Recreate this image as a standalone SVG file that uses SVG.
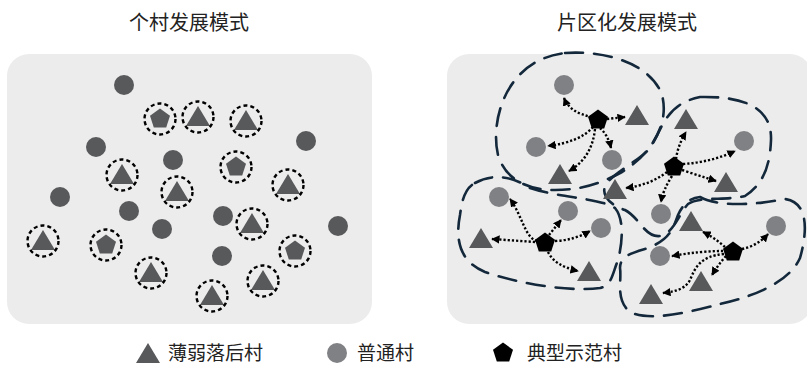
<svg xmlns="http://www.w3.org/2000/svg" xmlns:xlink="http://www.w3.org/1999/xlink" width="807" height="367" viewBox="0 0 807 367">
<style>
  .title { font-family: "Noto Sans CJK SC", sans-serif; font-size: 20px; fill: #222; text-anchor: middle; }
  .leg { font-family: "Noto Sans CJK SC", sans-serif; font-size: 19px; fill: #222; }
  .panel { fill: #ececec; }
  .dk { fill: #58595b; }
  .gr { fill: #808184; }
  .bk { fill: #000; }
  .ring { fill: none; stroke: #000; stroke-width: 2.4; stroke-dasharray: 4 3; }
  .link { fill: none; stroke: #000; stroke-width: 2.4; stroke-dasharray: 2.2 2; marker-end: url(#ah); }
  .zone { fill: none; stroke: #13283b; stroke-width: 2.6; stroke-dasharray: 18 11; stroke-linecap: round; }
</style>
<defs>
  <polygon id="tri" points="0,-11 -12,9 12,9"/>
  <polygon id="pent" points="0,-10.5 10,-3.2 6.2,8.5 -6.2,8.5 -10,-3.2"/>
  <marker id="ah" viewBox="0 0 10 10" refX="9" refY="5" markerWidth="3.5" markerHeight="3.5" orient="auto" markerUnits="strokeWidth">
    <path d="M0,0 L10,5 L0,10 z" fill="#000"/>
  </marker>
</defs>

<text class="title" x="189" y="30">个村发展模式</text>
<text class="title" x="627" y="30">片区化发展模式</text>

<rect class="panel" x="7" y="54" width="365" height="270" rx="22"/>
<rect class="panel" x="447" y="54" width="365" height="270" rx="22"/>

<!-- Left panel: individual village model -->
<g id="L1"><circle class="dk" cx="124" cy="85" r="10"/></g>
<g id="L2"><use href="#pent" x="160" y="119" class="dk"/><circle class="ring" cx="160" cy="119" r="15.5"/></g>
<g id="L3"><use href="#tri" x="198" y="117" class="dk"/><circle class="ring" cx="198" cy="117" r="15.5"/></g>
<g id="L4"><use href="#tri" x="246" y="121" class="dk"/><circle class="ring" cx="246" cy="121" r="15.5"/></g>
<g id="L5"><circle class="dk" cx="96" cy="147" r="10"/></g>
<g id="L6"><circle class="dk" cx="306" cy="141" r="10"/></g>
<g id="L7"><circle class="dk" cx="173" cy="160" r="10"/></g>
<g id="L8"><use href="#tri" x="122" y="175" class="dk"/><circle class="ring" cx="122" cy="175" r="15.5"/></g>
<g id="L9"><use href="#pent" x="236" y="167" class="dk"/><circle class="ring" cx="236" cy="167" r="15.5"/></g>
<g id="L10"><use href="#tri" x="177" y="192" class="dk"/><circle class="ring" cx="177" cy="192" r="15.5"/></g>
<g id="L11"><use href="#tri" x="288" y="185" class="dk"/><circle class="ring" cx="288" cy="185" r="15.5"/></g>
<g id="L12"><circle class="dk" cx="60" cy="197" r="10"/></g>
<g id="L13"><circle class="dk" cx="129" cy="211" r="10"/></g>
<g id="L14"><circle class="dk" cx="162" cy="229" r="10"/></g>
<g id="L15"><circle class="dk" cx="223" cy="216" r="10"/></g>
<g id="L16"><use href="#tri" x="252" y="224" class="dk"/><circle class="ring" cx="252" cy="224" r="15.5"/></g>
<g id="L17"><circle class="dk" cx="338" cy="226" r="10"/></g>
<g id="L18"><use href="#tri" x="43" y="241" class="dk"/><circle class="ring" cx="43" cy="241" r="15.5"/></g>
<g id="L19"><use href="#pent" x="106" y="245" class="dk"/><circle class="ring" cx="106" cy="245" r="15.5"/></g>
<g id="L20"><circle class="dk" cx="222" cy="256" r="10"/></g>
<g id="L21"><use href="#pent" x="295" y="251" class="dk"/><circle class="ring" cx="295" cy="251" r="15.5"/></g>
<g id="L22"><use href="#tri" x="151" y="273" class="dk"/><circle class="ring" cx="151" cy="273" r="15.5"/></g>
<g id="L23"><use href="#tri" x="263" y="281" class="dk"/><circle class="ring" cx="263" cy="281" r="15.5"/></g>
<g id="L24"><use href="#tri" x="212" y="296" class="dk"/><circle class="ring" cx="212" cy="296" r="15.5"/></g>

<!-- Right panel: zone boundaries -->
<g id="zones">
  <path class="zone" d="M565,53 C610,50 652,66 662,95 C670,125 650,155 622,172 C600,184 580,190 555,190 C525,190 505,178 498,155 C490,122 505,60 565,53 Z"/>
  <path class="zone" d="M700,97 C745,96 772,108 771,140 C770,168 762,185 745,196 C725,201 700,196 688,204 C678,215 675,232 660,236 C645,238 640,218 625,210 C610,205 600,195 606,184 C615,172 640,160 650,148 C662,130 665,104 700,97 Z"/>
  <path class="zone" d="M475,183 C495,172 515,178 530,188 C560,198 600,198 615,208 C625,220 622,245 618,260 C612,275 612,285 600,288 C570,292 520,284 485,272 C460,262 455,240 460,215 C462,200 465,188 475,183 Z"/>
  <path class="zone" d="M700,197 C720,208 760,204 785,199 C808,202 808,230 800,258 C790,280 760,295 720,304 C690,312 650,322 630,312 C615,300 622,280 620,268 C620,255 635,252 648,248 C668,240 672,232 678,215 C683,204 690,198 700,197 Z"/>
</g>

<!-- Right panel: connectors -->
<g id="links">
  <path class="link" d="M592,117 Q570,113 564,98"/>
  <path class="link" d="M607,119 L625,117"/>
  <path class="link" d="M593,127 Q580,142 548,146"/>
  <path class="link" d="M600,128 Q608,135 611,148"/>
  <path class="link" d="M595,129 Q592,158 569,171"/>

  <path class="link" d="M676,159 Q678,145 686,132"/>
  <path class="link" d="M683,164 Q712,162 735,151"/>
  <path class="link" d="M682,170 Q700,176 716,181"/>
  <path class="link" d="M667,172 Q650,185 626,188"/>
  <path class="link" d="M672,176 Q663,190 661,202"/>

  <path class="link" d="M537,241 C525,238 522,215 510,199"/>
  <path class="link" d="M549,235 L561,220"/>
  <path class="link" d="M555,241 Q575,240 590,231"/>
  <path class="link" d="M535,242 L492,239"/>
  <path class="link" d="M548,252 Q555,266 578,271"/>

  <path class="link" d="M742,249 Q757,246 768,234"/>
  <path class="link" d="M725,247 Q715,238 703,232"/>
  <path class="link" d="M723,251 Q700,251 672,256"/>
  <path class="link" d="M726,256 Q718,265 712,275"/>
  <path class="link" d="M724,254 C700,256 695,268 690,280 C685,290 672,292 663,293"/>
</g>

<!-- Right panel nodes -->
<g id="R1"><circle class="gr" cx="564" cy="85" r="10"/></g>
<g id="R2"><use href="#pent" x="598" y="120" class="bk"/></g>
<g id="R3"><use href="#tri" x="637" y="116" class="dk"/></g>
<g id="R4"><use href="#tri" x="686" y="120" class="dk"/></g>
<g id="R5"><circle class="gr" cx="536" cy="147" r="10"/></g>
<g id="R6"><circle class="gr" cx="744" cy="141" r="10"/></g>
<g id="R7"><circle class="gr" cx="612" cy="160" r="10"/></g>
<g id="R8"><use href="#tri" x="560" y="175" class="dk"/></g>
<g id="R9"><use href="#pent" x="674" y="167" class="bk"/></g>
<g id="R10"><use href="#tri" x="615" y="190" class="dk"/></g>
<g id="R11"><use href="#tri" x="726" y="183" class="dk"/></g>
<g id="R12"><circle class="gr" cx="499" cy="197" r="10"/></g>
<g id="R13"><circle class="gr" cx="568" cy="211" r="10"/></g>
<g id="R14"><circle class="gr" cx="601" cy="228" r="10"/></g>
<g id="R15"><circle class="gr" cx="661" cy="214" r="10"/></g>
<g id="R16"><use href="#tri" x="691" y="222" class="dk"/></g>
<g id="R17"><circle class="gr" cx="776" cy="226" r="10"/></g>
<g id="R18"><use href="#tri" x="481" y="239" class="dk"/></g>
<g id="R19"><use href="#pent" x="545" y="243" class="bk"/></g>
<g id="R20"><circle class="gr" cx="660" cy="256" r="10"/></g>
<g id="R21"><use href="#pent" x="733" y="252" class="bk"/></g>
<g id="R22"><use href="#tri" x="589" y="272" class="dk"/></g>
<g id="R23"><use href="#tri" x="701" y="282" class="dk"/></g>
<g id="R24"><use href="#tri" x="651" y="295" class="dk"/></g>

<!-- Legend -->
<g id="legend">
  <use href="#tri" x="148" y="354" class="dk"/>
  <text class="leg" x="168" y="360">薄弱落后村</text>
  <circle class="gr" cx="337" cy="353" r="10"/>
  <text class="leg" x="357" y="360">普通村</text>
  <use href="#pent" x="503" y="353" class="bk"/>
  <text class="leg" x="527" y="360">典型示范村</text>
</g>
</svg>
